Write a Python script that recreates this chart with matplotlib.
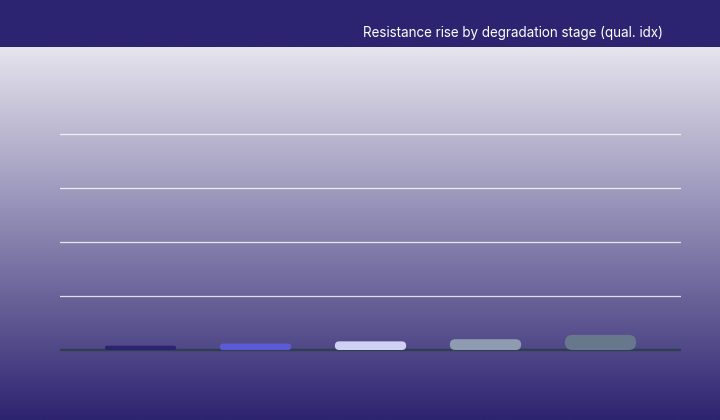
import numpy as np
import matplotlib
matplotlib.use("Agg")
import matplotlib.pyplot as plt
from matplotlib.patches import FancyBboxPatch
from matplotlib.colors import LinearSegmentedColormap

# ---- data ----
stages = ["Stage 1", "Stage 2", "Stage 3", "Stage 4", "Stage 5"]
values = [2, 3, 4, 5, 7]
bar_colors = ["#2c2470", "#5b5bd6", "#d0d0f2", "#8e9bb0", "#67788c"]
title = "Resistance rise by degradation stage (qual. idx)"
yticks = [0, 25, 50, 75, 100]

W, H, DPI = 720, 420, 100
fig = plt.figure(figsize=(W / DPI, H / DPI), dpi=DPI)

# background gradient
bg = fig.add_axes([0, 0, 1, 1 - 47 / H])
cmap = LinearSegmentedColormap.from_list("bg", ["#e6e4ee", "#2d2470"])
grad = np.linspace(0, 1, 256).reshape(-1, 1)
bg.imshow(grad, aspect="auto", cmap=cmap, extent=[0, 1, 0, 1], origin="upper")
bg.set_axis_off()

# title bar
tb = fig.add_axes([0, 1 - 47 / H, 1, 47 / H])
tb.set_facecolor("#2c2470")
tb.set_xticks([]); tb.set_yticks([])
for s in tb.spines.values():
    s.set_visible(False)
tb.set_xlim(0, W); tb.set_ylim(0, 47)
tb.text(663, 47 - 32.5, title, ha="right", va="center", color="white",
        fontsize=9.7, family=["Inter", "DejaVu Sans"])

# main axes
ymin, ymax = -2, 110
px_per_unit = 54 / 25
hpx = (ymax - ymin) * px_per_unit
bottom_px = 350 + (0 - ymin) * px_per_unit
ax = fig.add_axes([60 / W, (H - bottom_px) / H, 621 / W, hpx / H])
ax.patch.set_alpha(0)
ax.set_xlim(-0.7, 4.7)
ax.set_ylim(ymin, ymax)
for s in ax.spines.values():
    s.set_visible(False)
ax.set_xticks([]); ax.set_yticks([])
for t in yticks[1:]:
    ax.axhline(t, color="white", lw=0.9, alpha=0.8, zorder=1)
ax.axhline(0, color="#2f3e50", lw=1.7, zorder=2)

x = np.arange(len(stages))
bars = ax.bar(x, values, width=0.62, color=bar_colors)
xdata_per_px = 5.4 / 621
ydata_per_px = 1 / px_per_unit
aspect = ydata_per_px / xdata_per_px
for rect, c in zip(bars.patches, bar_colors):
    rect.set_visible(False)
    h_px = rect.get_height() / ydata_per_px
    r_px = min(7.5, h_px / 2)
    p = FancyBboxPatch((rect.get_x(), rect.get_y()), rect.get_width(), rect.get_height(),
                       boxstyle=f"round,pad=0,rounding_size={r_px * xdata_per_px}",
                       mutation_aspect=aspect, facecolor=c, edgecolor="none", zorder=3)
    ax.add_patch(p)

fig.savefig("out.png", dpi=DPI)
